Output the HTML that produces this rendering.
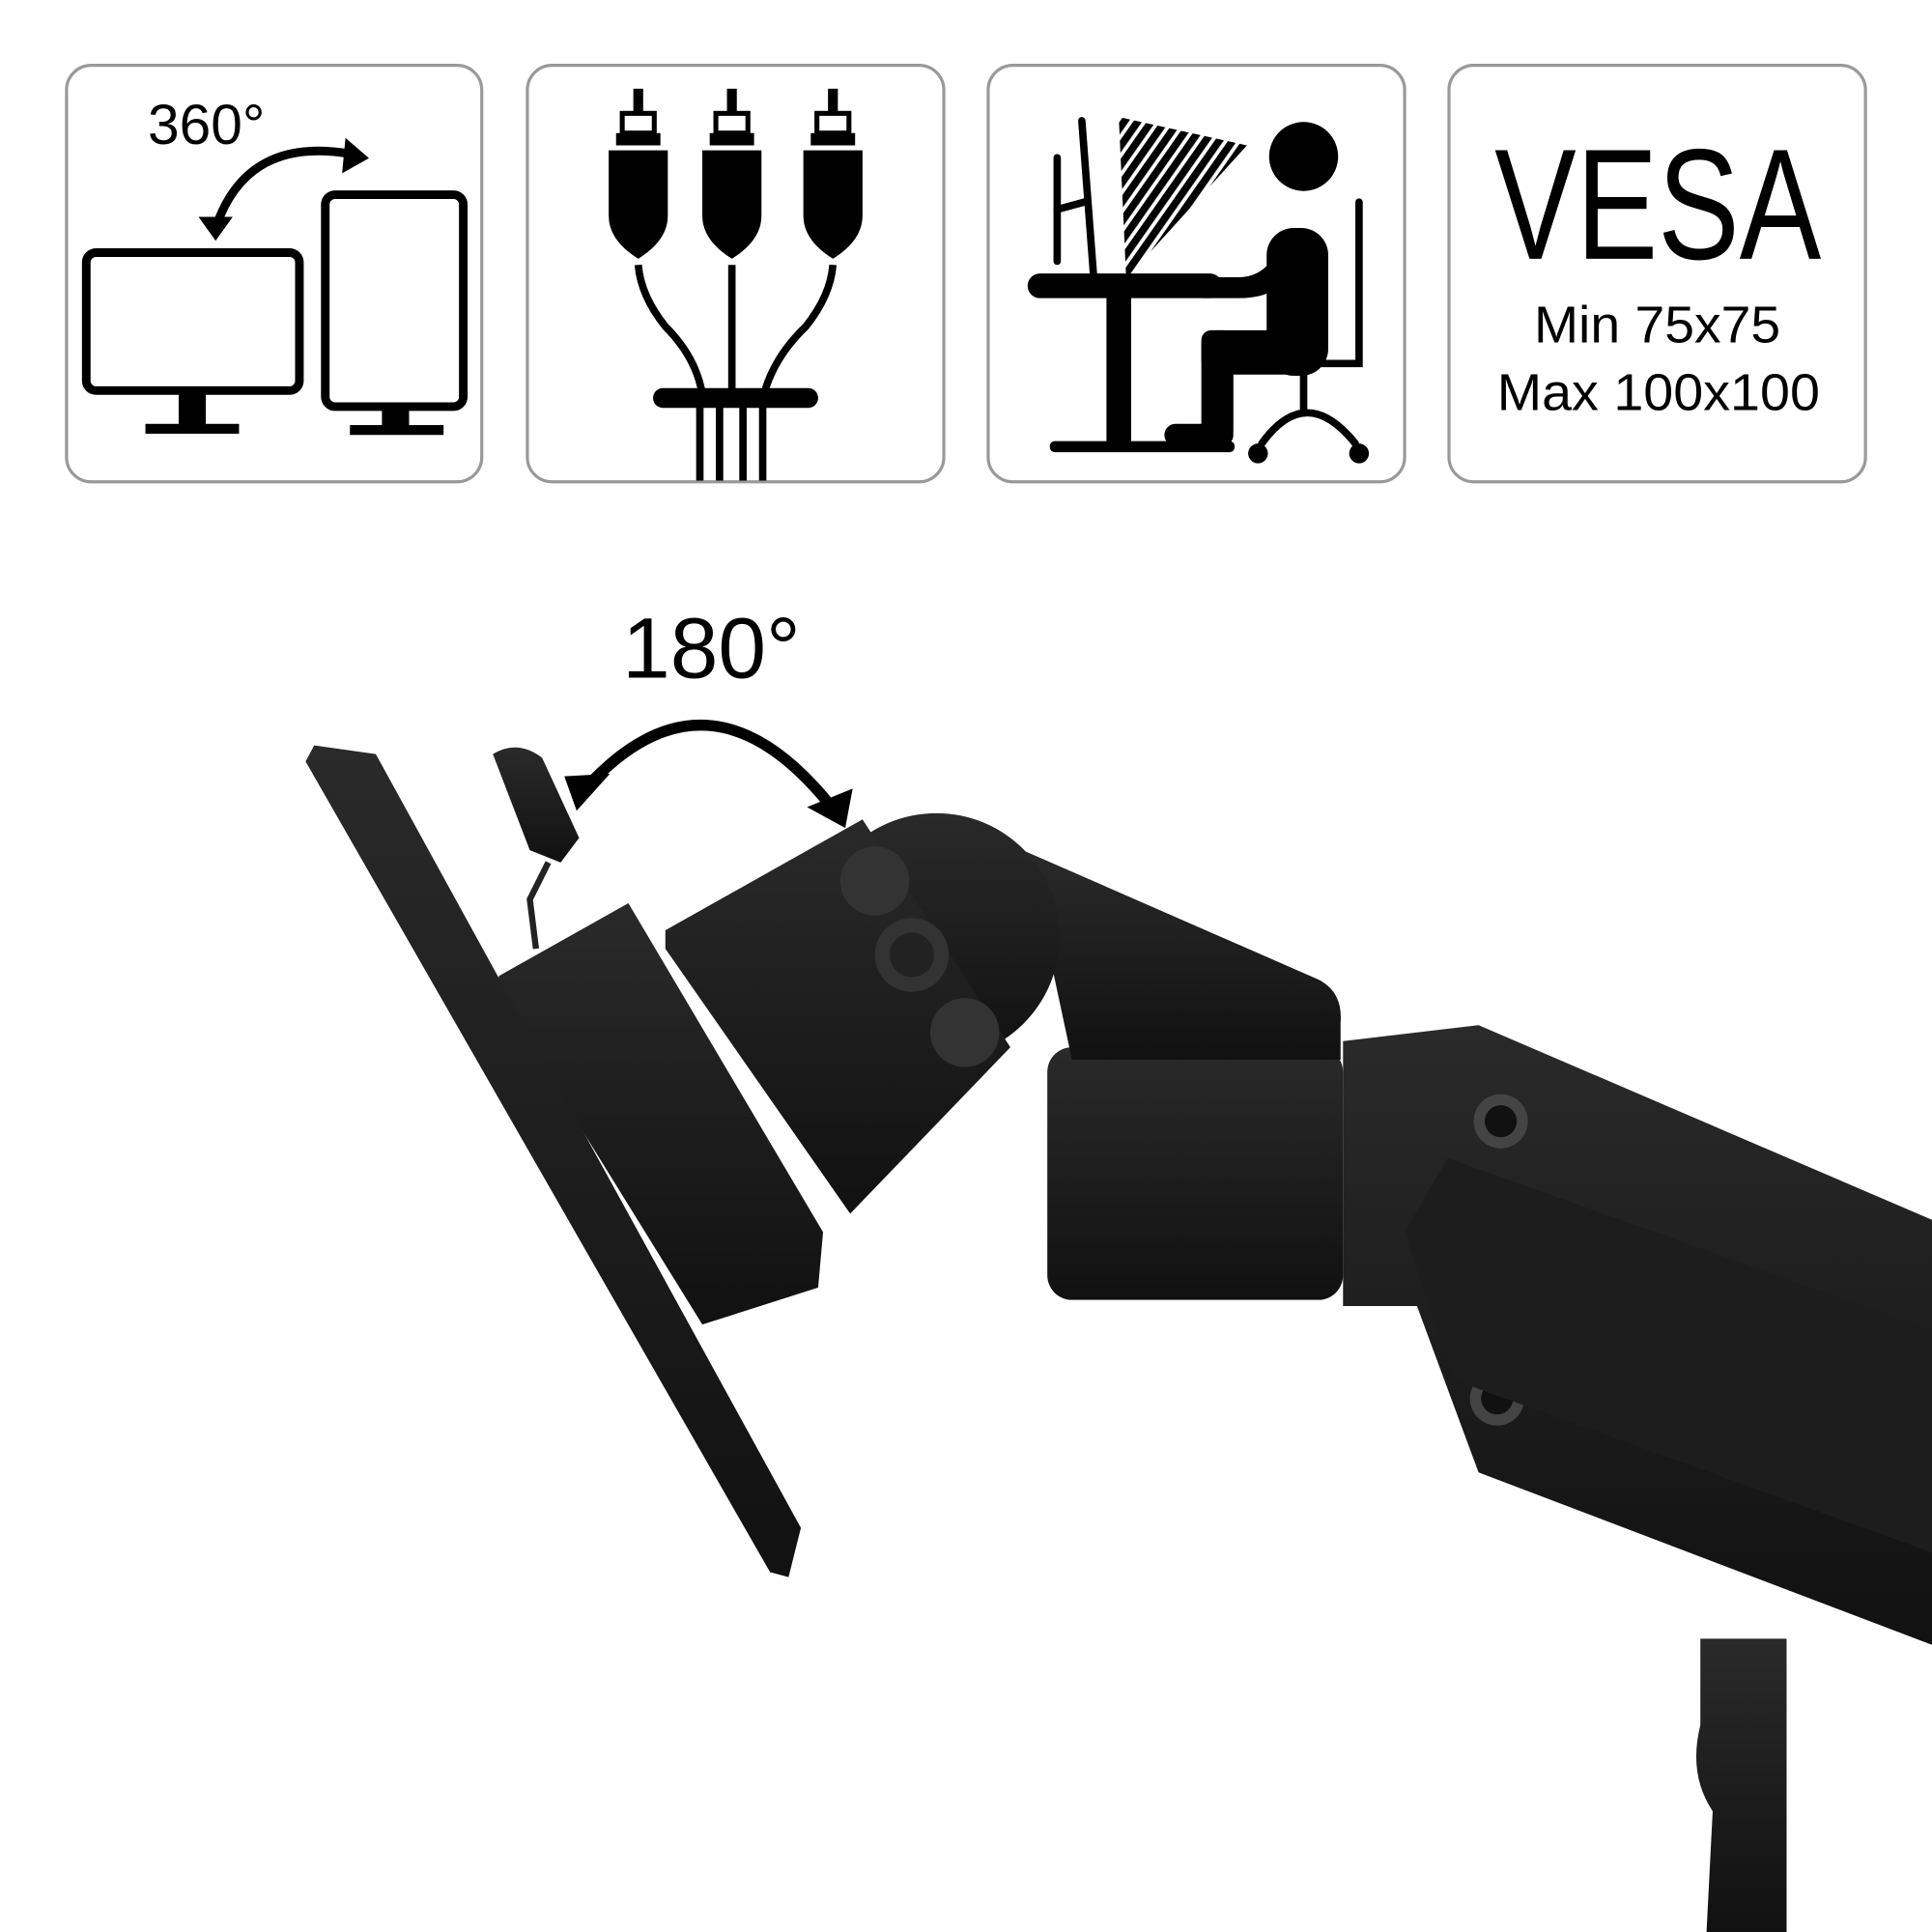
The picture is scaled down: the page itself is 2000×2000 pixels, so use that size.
<!DOCTYPE html>
<html><head><style>html,body{margin:0;padding:0;background:#fff}svg{display:block}</style></head>
<body>
<svg width="2000" height="2000" viewBox="0 0 1568 1568" xmlns="http://www.w3.org/2000/svg">
<defs>
<pattern id="h" width="9" height="9" patternUnits="userSpaceOnUse" patternTransform="rotate(35)"><rect width="6" height="9" fill="#000"/></pattern>
<linearGradient id="g" x1="0" y1="0" x2="0" y2="1"><stop offset="0" stop-color="#2a2a2a"/><stop offset="1" stop-color="#111"/></linearGradient>
</defs>
<g fill="none" stroke="#999" stroke-width="2.5">
<rect x="54" y="53" width="337" height="338" rx="20"/>
<rect x="428" y="53" width="338" height="338" rx="20"/>
<rect x="802" y="53" width="338" height="338" rx="20"/>
<rect x="1176" y="53" width="338" height="338" rx="20"/>
</g>
<!-- icon 1 -->
<text x="120" y="117" font-family="Liberation Sans, sans-serif" font-size="46" fill="#000">360°</text>
<path d="M175 185 Q200 110 285 125" fill="none" stroke="#000" stroke-width="7"/>
<path d="M165 178 L185 178 L175 192Z" fill="#000" stroke="#000" stroke-width="4"/>
<path d="M282 116 L296 128 L280 137Z" fill="#000" stroke="#000" stroke-width="4"/>
<rect x="70" y="205" width="173" height="112" rx="8" fill="none" stroke="#000" stroke-width="7"/>
<rect x="145" y="317" width="22" height="30" fill="#000"/><rect x="118" y="344" width="76" height="8" fill="#000"/>
<rect x="264" y="158" width="112" height="172" rx="8" fill="none" stroke="#000" stroke-width="7"/>
<rect x="310" y="330" width="22" height="18" fill="#000"/><rect x="284" y="345" width="76" height="8" fill="#000"/>
<!-- icon 2 -->
<g fill="#000" stroke="#000">
<g id="plug">
<rect x="514" y="72" width="8" height="20" stroke="none"/>
<rect x="505" y="92" width="26" height="16" fill="none" stroke-width="4"/>
<rect x="500" y="108" width="36" height="10" stroke="none"/>
<path d="M494 122 H542 V175 Q542 195 518 210 Q494 195 494 175Z" stroke="none"/>
</g>
<use href="#plug" x="76"/><use href="#plug" x="158"/>
</g>
<g fill="none" stroke="#000" stroke-width="6">
<path d="M518 215 Q520 240 540 265 Q565 290 570 320"/>
<path d="M594 215 V320"/>
<path d="M676 215 Q674 240 654 265 Q628 290 620 320"/>
<path d="M568 330 V390 M584 330 V390 M603 330 V390 M619 330 V390"/>
</g>
<rect x="530" y="315" width="134" height="16" rx="8" fill="#000"/>
<!-- icon 3 -->
<g stroke="#000" stroke-linecap="round" fill="none" stroke-width="6">
<path d="M858 128 V212"/><path d="M878 98 L888 230"/><path d="M858 170 L880 164"/>
</g>
<path d="M908 95 L1012 118 L914 226Z" fill="url(#h)"/>
<rect x="834" y="222" width="158" height="20" rx="10" fill="#000"/>
<rect x="898" y="240" width="20" height="125" fill="#000"/>
<rect x="852" y="358" width="150" height="9" rx="4" fill="#000"/>
<circle cx="1058" cy="127" r="28" fill="#000"/>
<rect x="1028" y="185" width="50" height="120" rx="22" fill="#000"/>
<path d="M1040 195 Q1030 225 1005 225 H975 Q962 232 975 242 H1005 Q1030 242 1040 230Z" fill="#000"/>
<rect x="975" y="268" width="90" height="36" rx="12" fill="#000"/>
<rect x="975" y="268" width="26" height="90" rx="8" fill="#000"/>
<rect x="945" y="344" width="56" height="18" rx="9" fill="#000"/>
<g stroke="#000" stroke-width="6" fill="none" stroke-linecap="round">
<path d="M1103 164 V295 H1015"/><path d="M1058 295 V332"/><path d="M1024 360 Q1060 310 1100 360"/>
</g>
<circle cx="1021" cy="368" r="8" fill="#000"/><circle cx="1103" cy="368" r="8" fill="#000"/>
<!-- icon 4 -->
<text x="1213" y="210" textLength="265" lengthAdjust="spacingAndGlyphs" font-family="Liberation Sans, sans-serif" font-size="128" fill="#000">VESA</text>
<text x="1245" y="278" textLength="200" lengthAdjust="spacingAndGlyphs" font-family="Liberation Sans, sans-serif" font-size="42" fill="#000">Min 75x75</text>
<text x="1215" y="333" textLength="262" lengthAdjust="spacingAndGlyphs" font-family="Liberation Sans, sans-serif" font-size="42" fill="#000">Max 100x100</text>
<!-- 180 -->
<text x="505" y="550" font-family="Liberation Sans, sans-serif" font-size="70" fill="#000">180°</text>
<path d="M475 640 Q575 530 675 655" fill="none" stroke="#000" stroke-width="9"/>
<path d="M458 630 L495 628 L468 658Z" fill="#000"/>
<path d="M692 640 L686 672 L655 655Z" fill="#000"/>
<!-- arm -->
<g fill="url(#g)">
<path d="M1090 845 L1200 832 L1568 990 L1568 1335 L1200 1195 L1150 1060 L1090 1060Z"/>
<path d="M1380 1330 L1450 1330 L1450 1568 L1385 1568 L1390 1470 Q1370 1440 1380 1400Z"/>
<rect x="850" y="850" width="240" height="205" rx="20"/>
<path d="M830 690 L1070 795 Q1090 805 1088 830 L1088 860 L870 860 L855 790Z"/>
<circle cx="760" cy="760" r="100"/>
<path d="M540 755 L700 665 L820 850 L690 985 L540 770Z"/>
<path d="M405 792 L510 733 L668 1000 L664 1045 L570 1075 L403 805Z"/>
<path d="M255 605 L305 612 L650 1240 L640 1280 L625 1276 L248 618Z"/>
<path d="M400 612 Q420 600 440 615 L470 680 L455 700 L430 690Z"/>
</g>
<path d="M445 700 L430 730 L435 770" stroke="#222" stroke-width="5" fill="none"/>
<g fill="#333"><circle cx="710" cy="715" r="28"/><circle cx="783" cy="838" r="28"/><circle cx="740" cy="775" r="30"/></g>
<circle cx="740" cy="775" r="18" fill="#222"/>
<g fill="#444"><circle cx="1218" cy="910" r="22"/><circle cx="1215" cy="1135" r="22"/></g>
<g fill="#111"><circle cx="1218" cy="910" r="13"/><circle cx="1215" cy="1135" r="13"/></g>
<path d="M1140 1000 L1175 940 L1568 1080 L1568 1260 L1180 1120Z" fill="#1d1d1d"/>
</svg>
</body></html>
